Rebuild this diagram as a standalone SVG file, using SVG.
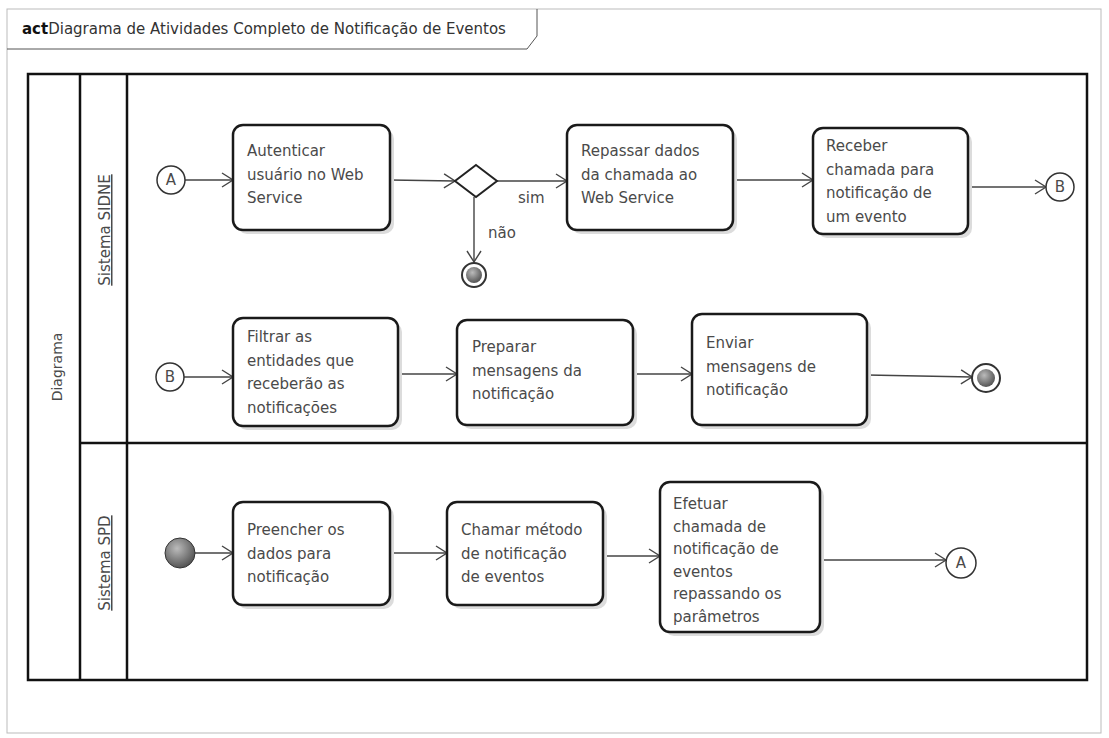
<svg xmlns="http://www.w3.org/2000/svg" width="1109" height="738" viewBox="0 0 1109 738">
<style>
.t{font-family:"DejaVu Sans","Liberation Sans",sans-serif;font-size:15px;fill:#4a4a4a}
.act{fill:#fff;stroke:#1a1a1a;stroke-width:2.5}
.sh{fill:#dcdcdc}
.lane{fill:none;stroke:#111;stroke-width:2.5}
.e{fill:none;stroke:#444;stroke-width:1.4;marker-end:url(#ah)}
.conn{fill:#fff;stroke:#333;stroke-width:1.5}
</style>
<defs>
<marker id="ah" markerWidth="14" markerHeight="16" refX="12" refY="8" orient="auto" markerUnits="userSpaceOnUse">
<path d="M1,1 L12,8 L1,15" fill="none" stroke="#444" stroke-width="1.4"/>
</marker>
<radialGradient id="g" cx="40%" cy="35%" r="65%">
<stop offset="0" stop-color="#bbb"/><stop offset="1" stop-color="#555"/>
</radialGradient>
</defs>
<rect width="1109" height="738" fill="#fff"/>
<g id="frame">
<rect x="7" y="9" width="1094" height="724" fill="none" stroke="#bbb" stroke-width="1"/>
<path d="M7,49 L527,49 L537,36 L537,9" fill="none" stroke="#555" stroke-width="1"/>
<text x="22" y="34" class="t" style="fill:#333;font-size:15px"><tspan font-weight="bold" fill="#111">act</tspan>Diagrama de Atividades Completo de Notificação de Eventos</text>
</g>
<g id="pool">
<rect x="28" y="74" width="1059" height="606" class="lane"/>
<line x1="80" y1="74" x2="80" y2="680" class="lane"/>
<line x1="127" y1="74" x2="127" y2="680" class="lane"/>
<line x1="80" y1="443" x2="1087" y2="443" class="lane"/>
<text class="t" style="font-size:14px" transform="translate(62,367) rotate(-90)" text-anchor="middle">Diagrama</text>
<text class="t" transform="translate(110,230) rotate(-90)" text-anchor="middle" text-decoration="underline">Sistema SIDNE</text>
<text class="t" transform="translate(110,563) rotate(-90)" text-anchor="middle" text-decoration="underline">Sistema SPD</text>
</g>
<g id="connectors">
<line x1="185" y1="180" x2="233" y2="180" class="e"/>
<line x1="390" y1="180" x2="455" y2="181" class="e"/>
<line x1="497" y1="181" x2="567" y2="181" class="e"/>
<line x1="474" y1="197" x2="474" y2="262" class="e"/>
<line x1="733" y1="180" x2="813" y2="180" class="e"/>
<line x1="968" y1="187" x2="1046" y2="187" class="e"/>
<line x1="184" y1="377" x2="233" y2="377" class="e"/>
<line x1="398" y1="374" x2="457" y2="374" class="e"/>
<line x1="633" y1="374" x2="692" y2="374" class="e"/>
<line x1="867" y1="375" x2="972" y2="377" class="e"/>
<line x1="195" y1="553" x2="233" y2="553" class="e"/>
<line x1="390" y1="553" x2="447" y2="553" class="e"/>
<line x1="603" y1="556" x2="660" y2="556" class="e"/>
<line x1="820" y1="560" x2="946" y2="560" class="e"/>
<text x="518" y="203" class="t">sim</text>
<text x="488" y="238" class="t">não</text>
</g>
<g id="connA1"><circle cx="171" cy="180" r="14" class="conn"/><text x="171" y="185" class="t" text-anchor="middle">A</text></g>
<g id="autenticar"><rect x="237" y="129" width="157" height="105" rx="10" class="sh"/><rect x="233" y="125" width="157" height="105" rx="10" class="act"/>
<text class="t"><tspan x="247" y="156">Autenticar</tspan><tspan x="247" y="179.5">usuário no Web</tspan><tspan x="247" y="203">Service</tspan></text></g>
<g id="decisao"><path d="M476,165 L497,181 L476,197 L455,181 Z" fill="#fff" stroke="#222" stroke-width="2"/></g>
<g id="fim1"><circle cx="474" cy="275" r="12" fill="#fff" stroke="#333" stroke-width="2"/><circle cx="474" cy="275" r="8" fill="url(#g)"/></g>
<g id="repassar"><rect x="571" y="129" width="166" height="105" rx="10" class="sh"/><rect x="567" y="125" width="166" height="105" rx="10" class="act"/>
<text class="t"><tspan x="581" y="156">Repassar dados</tspan><tspan x="581" y="179.5">da chamada ao</tspan><tspan x="581" y="203">Web Service</tspan></text></g>
<g id="receber"><rect x="817" y="132" width="155" height="106" rx="10" class="sh"/><rect x="813" y="128" width="155" height="106" rx="10" class="act"/>
<text class="t"><tspan x="826" y="151">Receber</tspan><tspan x="826" y="174.5">chamada para</tspan><tspan x="826" y="198">notificação de</tspan><tspan x="826" y="221.5">um evento</tspan></text></g>
<g id="connB1"><circle cx="1060" cy="187" r="14" class="conn"/><text x="1060" y="192" class="t" text-anchor="middle">B</text></g>
<g id="connB2"><circle cx="170" cy="377" r="14" class="conn"/><text x="170" y="382" class="t" text-anchor="middle">B</text></g>
<g id="filtrar"><rect x="237" y="322" width="165" height="108" rx="10" class="sh"/><rect x="233" y="318" width="165" height="108" rx="10" class="act"/>
<text class="t"><tspan x="247" y="342">Filtrar as</tspan><tspan x="247" y="365.5">entidades que</tspan><tspan x="247" y="389">receberão as</tspan><tspan x="247" y="412.5">notificações</tspan></text></g>
<g id="preparar"><rect x="461" y="324" width="176" height="105" rx="10" class="sh"/><rect x="457" y="320" width="176" height="105" rx="10" class="act"/>
<text class="t"><tspan x="472" y="352">Preparar</tspan><tspan x="472" y="375.5">mensagens da</tspan><tspan x="472" y="399">notificação</tspan></text></g>
<g id="enviar"><rect x="696" y="318" width="175" height="111" rx="10" class="sh"/><rect x="692" y="314" width="175" height="111" rx="10" class="act"/>
<text class="t"><tspan x="706" y="348">Enviar</tspan><tspan x="706" y="371.5">mensagens de</tspan><tspan x="706" y="395">notificação</tspan></text></g>
<g id="fim2"><circle cx="986" cy="378" r="14" fill="#fff" stroke="#333" stroke-width="2"/><circle cx="986" cy="378" r="9" fill="url(#g)"/></g>
<g id="inicio"><circle cx="180" cy="553" r="15" fill="url(#g)" stroke="#333" stroke-width="1"/></g>
<g id="preencher"><rect x="237" y="506" width="157" height="103" rx="10" class="sh"/><rect x="233" y="502" width="157" height="103" rx="10" class="act"/>
<text class="t"><tspan x="247" y="535">Preencher os</tspan><tspan x="247" y="558.5">dados para</tspan><tspan x="247" y="582">notificação</tspan></text></g>
<g id="chamar"><rect x="451" y="506" width="156" height="103" rx="10" class="sh"/><rect x="447" y="502" width="156" height="103" rx="10" class="act"/>
<text class="t"><tspan x="461" y="535">Chamar método</tspan><tspan x="461" y="558.5">de notificação</tspan><tspan x="461" y="582">de eventos</tspan></text></g>
<g id="efetuar"><rect x="664" y="486" width="160" height="150" rx="10" class="sh"/><rect x="660" y="482" width="160" height="150" rx="10" class="act"/>
<text class="t"><tspan x="673" y="509">Efetuar</tspan><tspan x="673" y="531.5">chamada de</tspan><tspan x="673" y="554">notificação de</tspan><tspan x="673" y="576.5">eventos</tspan><tspan x="673" y="599">repassando os</tspan><tspan x="673" y="621.5">parâmetros</tspan></text></g>
<g id="connA2"><circle cx="961" cy="563" r="15" class="conn"/><text x="961" y="568" class="t" text-anchor="middle">A</text></g>
</svg>
